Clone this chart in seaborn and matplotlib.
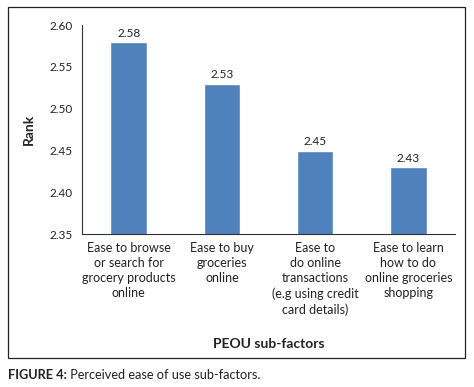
import matplotlib
matplotlib.use('Agg')
import matplotlib.pyplot as plt
import seaborn as sns
import pandas as pd
from matplotlib.patches import Rectangle

categories = ['Ease to browse\nor search for\ngrocery products\nonline',
              'Ease to buy\ngroceries\nonline',
              'Ease to\ndo online\ntransactions\n(e.g using credit\ncard details)',
              'Ease to learn\nhow to do\nonline groceries\nshopping']
ranks = [2.58, 2.53, 2.45, 2.43]
yticks = [2.35, 2.40, 2.45, 2.50, 2.55, 2.60]

sns.set_style('white')
plt.rcParams['font.family'] = ['Lato', 'DejaVu Sans']

df = pd.DataFrame({'factor': categories, 'rank': ranks})

fig = plt.figure(figsize=(4.74, 3.87), dpi=100)
ax = fig.add_axes([0.173, 0.395, 0.787, 0.54])

sns.barplot(data=df, x='factor', y='rank', color='#4F81BD', saturation=1,
            width=0.39, ax=ax)

ax.set_ylim(2.35, 2.60)
ax.set_xlim(-0.5, len(categories) - 0.5)
ax.set_yticks(yticks)
ax.set_yticklabels(['%.2f' % t for t in yticks], fontsize=8.5, color='#222222')
ax.set_xticks(range(len(categories)))
ax.set_xticklabels(categories, fontsize=9, color='#222222', linespacing=1.3)
ax.set_xticks([i - 0.5 for i in range(len(categories) + 1)], minor=True)
ax.tick_params(axis='x', which='major', length=0, pad=6)
ax.tick_params(axis='x', which='minor', length=4, width=0.8, direction='out', color='#333333')
ax.tick_params(axis='y', length=4, width=0.8, direction='out', color='#333333', pad=3)

for s in ['top', 'right']:
    ax.spines[s].set_visible(False)
for s in ['left', 'bottom']:
    ax.spines[s].set_color('#333333')
    ax.spines[s].set_linewidth(0.8)

for i, v in enumerate(ranks):
    ax.text(i, v + 0.004, '%.2f' % v, ha='center', va='bottom', fontsize=8.5, color='#222222')

ax.set_ylabel('Rank', fontsize=10, fontweight='bold', labelpad=10, color='#222222')
ax.set_xlabel('PEOU sub-factors', fontsize=10, fontweight='bold', labelpad=16, color='#222222')

fig.patches.append(Rectangle((8 / 474, 1 - 358 / 387), 457 / 474, 351 / 387,
                             transform=fig.transFigure, fill=False,
                             edgecolor='#222222', linewidth=0.9))

cap = fig.text(8 / 474, 1 - 375 / 387, 'FIGURE 4:', fontsize=9.2, fontweight='bold',
               va='center', color='#222222')
ax.annotate(' Perceived ease of use sub-factors.', xy=(1, 0.5), xycoords=cap,
            va='center', ha='left', fontsize=9.2, color='#222222',
            annotation_clip=False)

fig.savefig('out.png', dpi=100)
